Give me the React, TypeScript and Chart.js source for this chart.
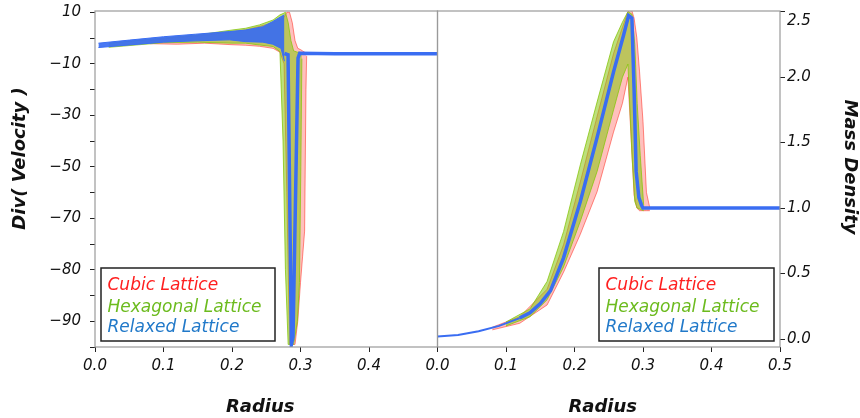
import React, { useEffect, useRef } from 'react';
import { Chart, registerables } from 'chart.js';

Chart.register(...registerables);

// ---------------- shared ----------------
const SERIES_NAMES = ['Cubic Lattice', 'Hexagonal Lattice', 'Relaxed Lattice'];
const SERIES_TEXT_COLORS = ['#ff1f1f', '#6cbb1e', '#2179c9'];
const RADIUS_TICKS = [0, 0.1, 0.2, 0.3, 0.4, 0.5];

// ---------------- left panel: Div( Velocity ) vs Radius ----------------
// axis runs in evenly spaced internal units; labels as printed on the figure
const DIV_TICK_VALUES = [10, -10, -30, -50, -70, -90, -110];
const DIV_TICK_LABELS = ['10', '\u221210', '\u221230', '\u221250', '\u221270', '\u221280', '\u221290'];

const DIV_CUBIC_R = [0.08, 0.12, 0.16, 0.2, 0.22, 0.24, 0.26, 0.27, 0.276, 0.28, 0.284, 0.288, 0.292, 0.296, 0.3, 0.303, 0.306, 0.308, 0.309];
const DIV_CUBIC_HI = [-1.0, 0.2, 1.0, 2.5, 3.2, 4.5, 6.0, 7.0, 8.0, 10, 10, 6, -1, -4, -4.5, -5, -5.5, -6, -6];
const DIV_CUBIC_LO = [-2.2, -2.4, -2.0, -2.6, -2.8, -3.2, -4.0, -5.5, -10, -60, -119, -119, -119, -110, -95, -85, -75, -20, -7];

const DIV_HEX_R = [0.02, 0.1, 0.15, 0.2, 0.22, 0.24, 0.26, 0.27, 0.2745, 0.278, 0.282, 0.286, 0.29, 0.2955, 0.2985, 0.3005, 0.302];
const DIV_HEX_HI = [-2.0, 0.0, 1.2, 3.1, 3.8, 5.1, 7.0, 9.0, 9.5, 10, 6, -1, -5, -5.5, -5.5, -6, -6];
const DIV_HEX_LO = [-3.6, -1.8, -1.6, -2.0, -2.0, -2.7, -3.3, -5.3, -40, -90, -119, -119, -119, -110, -95, -50, -8];

const DIV_RELAX_BAND_R = [0.005, 0.05, 0.1, 0.147, 0.196, 0.22, 0.245, 0.2595, 0.2715, 0.2765];
const DIV_RELAX_BAND_HI = [-2.0, -0.8, 0.5, 1.5, 2.5, 3.1, 4.4, 6.4, 8.3, 9.0];
const DIV_RELAX_BAND_LO = [-3.7, -2.7, -1.6, -1.1, -0.7, -1.4, -1.6, -2.4, -4.0, -9.0];

const DIV_RELAX_R = [0.2765, 0.2818, 0.2867, 0.2891, 0.2964, 0.2988, 0.35, 0.4, 0.45, 0.5];
const DIV_RELAX_V = [-6.0, -6.5, -119, -116, -7.8, -5.9, -6.1, -6.1, -6.1, -6.1];

// ---------------- right panel: Mass Density vs Radius ----------------
const DENSITY_TICKS = [0, 0.5, 1.0, 1.5, 2.0, 2.5];

const RHO_CUBIC_R = [0.08, 0.12, 0.16, 0.184, 0.2085, 0.233, 0.257, 0.27, 0.278, 0.283, 0.287, 0.291, 0.295, 0.3, 0.305, 0.31];
const RHO_CUBIC_HI = [0.09, 0.17, 0.38, 0.72, 1.2, 1.7, 2.18, 2.38, 2.5, 2.52, 2.45, 2.3, 2.04, 1.66, 1.12, 1.0];
const RHO_CUBIC_LO = [0.07, 0.12, 0.26, 0.51, 0.8, 1.125, 1.58, 1.8, 2.0, 1.5, 1.1, 1.0, 0.98, 0.98, 0.98, 0.98];

const RHO_HEX_R = [0.1, 0.135, 0.16, 0.184, 0.2085, 0.233, 0.257, 0.27, 0.278, 0.284, 0.288, 0.2915, 0.296, 0.301];
const RHO_HEX_HI = [0.13, 0.23, 0.44, 0.82, 1.33, 1.81, 2.27, 2.42, 2.5, 2.48, 2.25, 1.8, 1.4, 1.02];
const RHO_HEX_LO = [0.1, 0.17, 0.3, 0.55, 0.9, 1.28, 1.75, 2.0, 2.1, 1.4, 1.05, 1.0, 0.99, 0.98];

const RHO_RELAX_R = [0.0, 0.03, 0.06, 0.09, 0.12, 0.135, 0.15, 0.165, 0.184, 0.2085, 0.233, 0.257, 0.2716, 0.279, 0.2838, 0.287, 0.29, 0.294, 0.298, 0.3, 0.4, 0.5];
const RHO_RELAX_V = [0.02, 0.03, 0.06, 0.1, 0.16, 0.2, 0.27, 0.37, 0.62, 1.05, 1.54, 2.04, 2.32, 2.47, 2.45, 1.9, 1.28, 1.08, 1.02, 1.0, 1.0, 1.0];

// ---------------- styling ----------------
const RED_FILL = 'rgba(255, 45, 35, 0.3)';
const RED_EDGE = 'rgba(255, 45, 35, 0.55)';
const GREEN_FILL = 'rgba(135, 198, 15, 0.55)';
const GREEN_EDGE = 'rgba(135, 198, 15, 0.8)';
const BLUE = '#3a6df2';
const BLUE_FILL = 'rgba(58, 109, 242, 0.92)';
const FONT = 'DejaVu Sans';

function pts(r: number[], v: number[]) {
  return r.map((x, i) => ({ x, y: v[i] }));
}

// order: lower numbers are drawn on top
function band(r: number[], lo: number[], hi: number[], fillColor: string, edge: string, order: number) {
  return [
    { data: pts(r, lo), order, borderColor: edge, borderWidth: 1, pointRadius: 0, fill: false, tension: 0 },
    { data: pts(r, hi), order, borderColor: edge, borderWidth: 1, pointRadius: 0, fill: '-1', backgroundColor: fillColor, tension: 0 },
  ];
}

function decorPlugin(cfg: { side: 'left' | 'right'; yTitle: string; yTitleDy: number }) {
  return {
    id: 'decor_' + cfg.side,
    afterDraw(chart: any) {
      const { ctx, chartArea: a } = chart;
      ctx.save();
      // frame
      ctx.strokeStyle = '#9a9a9a';
      ctx.lineWidth = 1.2;
      ctx.strokeRect(a.left, a.top, a.right - a.left, a.bottom - a.top);

      // x title
      ctx.fillStyle = '#111';
      ctx.font = `italic bold 18px "${FONT}"`;
      ctx.textAlign = 'center';
      ctx.textBaseline = 'alphabetic';
      ctx.fillText('Radius', (a.left + a.right) / 2 - 6, 411.5);

      // y title
      const cy = (a.top + a.bottom) / 2 + cfg.yTitleDy;
      ctx.save();
      ctx.textBaseline = 'middle';
      if (cfg.side === 'left') {
        ctx.translate(20, cy);
        ctx.rotate(-Math.PI / 2);
      } else {
        ctx.translate(850, cy);
        ctx.rotate(Math.PI / 2);
      }
      ctx.fillText(cfg.yTitle, 0, 0);
      ctx.restore();

      // legend
      const x0 = cfg.side === 'left' ? a.left + 6 : a.right - 181;
      const x1 = cfg.side === 'left' ? a.left + 180 : a.right - 6;
      const y0 = a.bottom - 79;
      const y1 = a.bottom - 6;
      ctx.fillStyle = '#fff';
      ctx.fillRect(x0, y0, x1 - x0, y1 - y0);
      ctx.strokeStyle = '#222';
      ctx.lineWidth = 1.5;
      ctx.strokeRect(x0, y0, x1 - x0, y1 - y0);
      ctx.font = `italic 17px "${FONT}"`;
      ctx.textAlign = 'left';
      ctx.textBaseline = 'alphabetic';
      const offs = [22.3, 44.3, 64];
      SERIES_NAMES.forEach((name, i) => {
        ctx.fillStyle = SERIES_TEXT_COLORS[i];
        ctx.fillText(name, x0 + 6.5, y0 + offs[i]);
      });
      ctx.restore();
    },
  };
}

const tickFont = { family: FONT, style: 'italic' as const, size: 15 };

function xScale(hideLast: boolean) {
  return {
    type: 'linear' as const,
    min: 0,
    max: 0.5,
    afterBuildTicks: (s: any) => {
      s.ticks = RADIUS_TICKS.map((value) => ({ value }));
    },
    afterFit: (s: any) => {
      s.height = 71;
      s.paddingLeft = 0;
      s.paddingRight = 0;
    },
    grid: { display: true, drawOnChartArea: false, drawTicks: true, tickLength: 5, tickColor: '#222' },
    border: { display: false },
    ticks: {
      autoSkip: false,
      maxRotation: 0,
      padding: 5,
      color: '#111',
      font: tickFont,
      callback: (v: number) => (hideLast && Math.abs(v - 0.5) < 1e-9 ? '' : Number(v).toFixed(1)),
    },
  };
}

export default function App() {
  const leftRef = useRef<HTMLCanvasElement>(null);
  const rightRef = useRef<HTMLCanvasElement>(null);

  useEffect(() => {
    document.body.style.margin = '0';
    const left = new Chart(leftRef.current as HTMLCanvasElement, {
      type: 'line',
      data: {
        datasets: [
          ...band(DIV_CUBIC_R, DIV_CUBIC_LO, DIV_CUBIC_HI, RED_FILL, RED_EDGE, 3),
          ...band(DIV_HEX_R, DIV_HEX_LO, DIV_HEX_HI, GREEN_FILL, GREEN_EDGE, 2),
          ...band(DIV_RELAX_BAND_R, DIV_RELAX_BAND_LO, DIV_RELAX_BAND_HI, BLUE_FILL, BLUE, 1),
          { data: pts(DIV_RELAX_R, DIV_RELAX_V), order: 0, borderColor: BLUE, borderWidth: 3.5, pointRadius: 0, fill: false, tension: 0 },
        ] as any,
      },
      options: {
        animation: false,
        responsive: false,
        events: [],
        layout: { padding: { left: 0, top: 11, right: 860 - 437.5, bottom: 0 } },
        plugins: { legend: { display: false }, tooltip: { enabled: false } },
        scales: {
          x: xScale(true) as any,
          y: {
            type: 'linear',
            position: 'left',
            min: -120,
            max: 10.5,
            afterBuildTicks: (s: any) => {
              const t: any[] = [];
              for (let v = -120; v <= 10; v += 10) t.push({ value: v });
              s.ticks = t;
            },
            afterFit: (s: any) => {
              s.width = 95;
              s.paddingTop = 0;
              s.paddingBottom = 0;
            },
            grid: { display: true, drawOnChartArea: false, drawTicks: true, tickLength: 5, tickColor: '#222' },
            border: { display: false },
            ticks: {
              padding: 9,
              color: '#111',
              font: tickFont,
              callback: (v: number) => {
                const i = DIV_TICK_VALUES.indexOf(Number(v));
                return i >= 0 ? DIV_TICK_LABELS[i] : '';
              },
            },
          } as any,
        },
      },
      plugins: [decorPlugin({ side: 'left', yTitle: 'Div( Velocity )', yTitleDy: -20.5 })],
    });

    const right = new Chart(rightRef.current as HTMLCanvasElement, {
      type: 'line',
      data: {
        datasets: [
          ...band(RHO_CUBIC_R, RHO_CUBIC_LO, RHO_CUBIC_HI, RED_FILL, RED_EDGE, 3),
          ...band(RHO_HEX_R, RHO_HEX_LO, RHO_HEX_HI, GREEN_FILL, GREEN_EDGE, 2),
          {
            data: pts(RHO_RELAX_R, RHO_RELAX_V),
            order: 0,
            borderColor: BLUE,
            borderWidth: 3.5,
            segment: { borderWidth: (c: any) => (c.p0.parsed.x < 0.1 ? 2 : 3.5) },
            pointRadius: 0,
            fill: false,
            tension: 0,
          },
        ] as any,
      },
      options: {
        animation: false,
        responsive: false,
        events: [],
        layout: { padding: { left: 437.5, top: 11, right: 0, bottom: 0 } },
        plugins: { legend: { display: false }, tooltip: { enabled: false } },
        scales: {
          x: xScale(false) as any,
          y: {
            type: 'linear',
            position: 'right',
            min: -0.061,
            max: 2.505,
            afterBuildTicks: (s: any) => {
              s.ticks = DENSITY_TICKS.map((value) => ({ value }));
            },
            afterFit: (s: any) => {
              s.width = 80;
              s.paddingTop = 0;
              s.paddingBottom = 0;
            },
            grid: { display: true, drawOnChartArea: false, drawTicks: true, tickLength: 5, tickColor: '#222' },
            border: { display: false },
            ticks: {
              padding: 2,
              color: '#111',
              font: tickFont,
              // the top label sits just below its tick in the reference
              callback: (v: number) => {
                const t = Number(v).toFixed(1);
                return Number(v) >= DENSITY_TICKS[DENSITY_TICKS.length - 1] ? ['', t] : t;
              },
            },
          } as any,
        },
      },
      plugins: [decorPlugin({ side: 'right', yTitle: 'Mass Density', yTitleDy: -12 })],
    });

    return () => {
      left.destroy();
      right.destroy();
    };
  }, []);

  return (
    <div style={{ position: 'relative', width: 860, height: 418, background: '#fff' }}>
      <canvas ref={leftRef} width={860} height={418} style={{ position: 'absolute', left: 0, top: 0 }} />
      <canvas ref={rightRef} width={860} height={418} style={{ position: 'absolute', left: 0, top: 0 }} />
    </div>
  );
}
